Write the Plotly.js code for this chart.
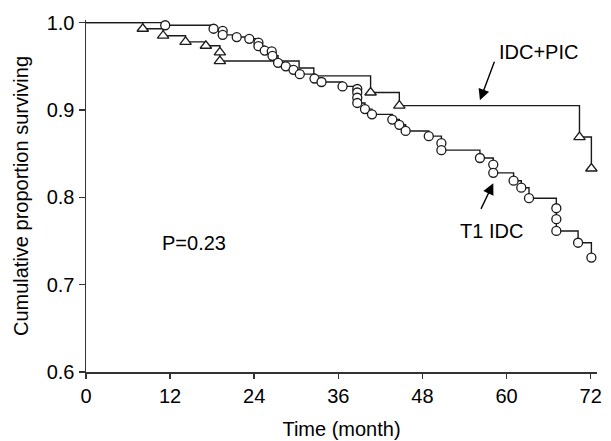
<!DOCTYPE html>
<html>
<head>
<meta charset="utf-8">
<script src="https://cdn.plot.ly/plotly-3.0.1.min.js"></script>
<style>
  html, body { margin: 0; padding: 0; background: #fff; }
  #chart { width: 611px; height: 441px; }
</style>
</head>
<body>
<div id="chart"></div>
<script>
// T1 IDC group (circles): event times (months) and survival after each step
const timeT1 = [11.3, 18.2, 19.5, 19.5, 21.5, 23.3, 24.6, 24.6, 25.5, 26.5, 26.6, 27.4, 28.5, 29.6, 30.5,
                32.6, 33.6, 36.6, 38.7, 38.7, 38.7, 38.7, 39.8, 40.8, 43.7, 44.7, 45.6, 48.9, 50.7, 50.7,
                56.2, 58.1, 58.1, 61.0, 62.1, 63.2, 67.1, 67.1, 67.1, 70.2, 72.1];
const survT1 = [0.997, 0.993, 0.9906, 0.986, 0.9835, 0.9815, 0.977, 0.973, 0.968, 0.967, 0.962, 0.954, 0.950, 0.946, 0.941,
                0.936, 0.932, 0.927, 0.924, 0.920, 0.914, 0.908, 0.901, 0.895, 0.889, 0.883, 0.876, 0.870, 0.862, 0.854,
                0.845, 0.8375, 0.828, 0.819, 0.811, 0.799, 0.7875, 0.775, 0.7615, 0.748, 0.731];

// IDC+PIC group (triangles)
const timeIP = [8.1, 11.0, 14.2, 17.1, 19.1, 19.1, 30.4, 32.5, 40.6, 44.7, 70.4, 72.1];
const survIP = [0.993, 0.985, 0.978, 0.9735, 0.966, 0.956, 0.948, 0.939, 0.920, 0.905, 0.869, 0.833];
const markIP = [1, 1, 1, 1, 1, 1, 0, 0, 1, 1, 1, 1];

const xTicks = [0, 12, 24, 36, 48, 60, 72];
const yTicks = [0.6, 0.7, 0.8, 0.9, 1.0];
const yTickText = ['0.6', '0.7', '0.8', '0.9', '1.0'];

const FONT = 'Liberation Sans, Arial, sans-serif';
const FS = 20;
const lineCol = '#1a1a1a';

function stepTrace(t, s) {
  return {
    x: [0].concat(t), y: [1].concat(s),
    type: 'scatter', mode: 'lines',
    line: { shape: 'hv', color: lineCol, width: 1.4 },
    hoverinfo: 'skip', showlegend: false
  };
}

const ipMx = timeIP.filter((v, i) => markIP[i]);
const ipMy = survIP.filter((v, i) => markIP[i]);

const traces = [
  stepTrace(timeT1, survT1),
  stepTrace(timeIP, survIP),
  {
    x: timeT1, y: survT1, type: 'scatter', mode: 'markers', cliponaxis: false,
    marker: { symbol: 'circle', size: 9, color: '#fff', line: { color: lineCol, width: 1.3 } },
    showlegend: false
  },
  {
    x: ipMx, y: ipMy, type: 'scatter', mode: 'markers', cliponaxis: false,
    marker: { symbol: 'triangle-up', size: 10, color: '#fff', line: { color: lineCol, width: 1.3 } },
    showlegend: false
  }
];

const layout = {
  width: 611, height: 441,
  margin: { l: 86, r: 14, t: 20, b: 69 },
  paper_bgcolor: '#fff', plot_bgcolor: '#fff',
  font: { family: FONT, size: FS, color: '#000' },
  showlegend: false,
  xaxis: {
    range: [0, 72.9], tickvals: xTicks, ticktext: xTicks.map(String),
    showgrid: false, zeroline: false, showline: true, linecolor: '#333', linewidth: 1.5,
    ticks: 'outside', ticklen: 5, tickwidth: 1.5, tickcolor: '#333',
    tickfont: { family: FONT, size: FS, color: '#000' },
    title: { text: 'Time (month)', font: { family: FONT, size: FS, color: '#000' }, standoff: 16 }
  },
  yaxis: {
    range: [0.6, 1.003], tickvals: yTicks, ticktext: yTickText,
    showgrid: false, zeroline: false, showline: true, linecolor: '#333', linewidth: 1.5,
    ticks: 'outside', ticklen: 6, tickwidth: 1.5, tickcolor: '#333',
    tickfont: { family: FONT, size: FS, color: '#000' },
    title: { text: 'Cumulative proportion surviving', font: { family: FONT, size: FS, color: '#000' }, standoff: 12 }
  },
  annotations: [
    { x: 64.6, y: 0.966, xref: 'x', yref: 'y', text: 'IDC+PIC', showarrow: false,
      font: { family: FONT, size: FS, color: '#000' } },
    { x: 57.9, y: 0.761, xref: 'x', yref: 'y', text: 'T1 IDC', showarrow: false,
      font: { family: FONT, size: FS, color: '#000' } },
    { x: 15.4, y: 0.748, xref: 'x', yref: 'y', text: 'P=0.23', showarrow: false,
      font: { family: FONT, size: FS, color: '#000' } },
    { x: 56.2, y: 0.911, xref: 'x', yref: 'y', text: '', showarrow: true,
      ax: 15, ay: -40, arrowhead: 2, arrowsize: 1.6, arrowwidth: 1.4, arrowcolor: '#000', standoff: 0 },
    { x: 58.1, y: 0.816, xref: 'x', yref: 'y', text: '', showarrow: true,
      ax: -13, ay: 27, arrowhead: 2, arrowsize: 1.6, arrowwidth: 1.4, arrowcolor: '#000', standoff: 0 }
  ]
};

Plotly.newPlot('chart', traces, layout, { displayModeBar: false, staticPlot: true });
</script>
</body>
</html>
